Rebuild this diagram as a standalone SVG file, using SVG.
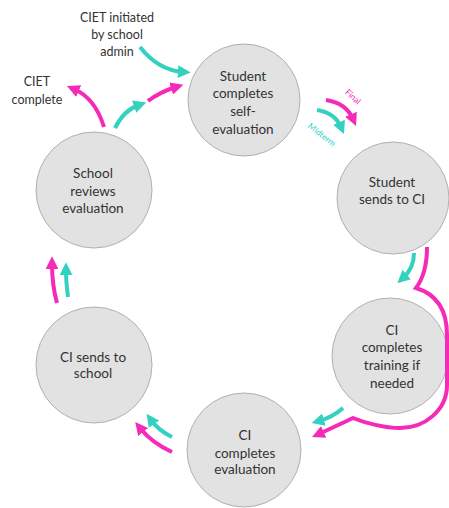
<svg xmlns="http://www.w3.org/2000/svg" width="449" height="508" viewBox="0 0 449 508">
<defs>
<marker id="ah-m" viewBox="0 0 10 10" refX="4" refY="5" markerWidth="3.2" markerHeight="3.2" orient="auto"><path d="M0,0 L10,5 L0,10 z" fill="#f52ab8"/></marker>
<marker id="ah-t" viewBox="0 0 10 10" refX="4" refY="5" markerWidth="3.2" markerHeight="3.2" orient="auto"><path d="M0,0 L10,5 L0,10 z" fill="#33d1c0"/></marker>
<style>
.node circle{fill:#e2e2e2;stroke:#b0b0b0;stroke-width:1}
.node text,.lbl{font-family:Lato,"Liberation Sans",sans-serif;font-size:13.5px;fill:#333;text-anchor:middle}
.lbl{font-size:12.5px}
.m{fill:none;stroke:#f52ab8;stroke-width:4;marker-end:url(#ah-m)}
.t{fill:none;stroke:#33d1c0;stroke-width:4;marker-end:url(#ah-t)}
.small{font-family:Lato,"Liberation Sans",sans-serif;font-size:8.5px;text-anchor:middle}
</style>
</defs>
<rect width="449" height="508" fill="#ffffff"/>
<g id="n1" class="node"><circle cx="244" cy="100" r="56"/><text x="243" y="81">Student</text><text x="243" y="98">completes</text><text x="243" y="116">self-</text><text x="243" y="134">evaluation</text></g>
<g id="n2" class="node"><circle cx="393" cy="198" r="56"/><text x="392" y="187">Student</text><text x="392" y="204">sends to CI</text></g>
<g id="n3" class="node"><circle cx="390" cy="356" r="58"/><text x="392" y="335">CI</text><text x="392" y="352">completes</text><text x="392" y="370">training if</text><text x="392" y="388">needed</text></g>
<g id="n4" class="node"><circle cx="244" cy="450" r="57"/><text x="245" y="440">CI</text><text x="245" y="458">completes</text><text x="245" y="474">evaluation</text></g>
<g id="n5" class="node"><circle cx="94" cy="365" r="58"/><text x="93" y="362">CI sends to</text><text x="93" y="378">school</text></g>
<g id="n6" class="node"><circle cx="94" cy="190" r="58"/><text x="93" y="178">School</text><text x="93" y="196">reviews</text><text x="93" y="213">evaluation</text></g>
<g id="labels">
<text class="lbl" x="117" y="22">CIET initiated</text><text class="lbl" x="117" y="39">by school</text><text class="lbl" x="117" y="56">admin</text>
<text class="lbl" x="37" y="86">CIET</text><text class="lbl" x="37" y="104">complete</text>
<text class="small" fill="#f52ab8" transform="translate(351,99) rotate(42)">Final</text>
<text class="small" fill="#33d1c0" transform="translate(320,137) rotate(38)">Midterm</text>
</g>
<g id="connectors">
<path class="t" d="M140,47 Q158,70 183,72"/>
<path class="m" d="M104,127 Q95,98 74,89"/>
<path class="t" d="M115,128 Q124,110 139,105"/>
<path class="m" d="M148,101 Q160,92 176,87"/>
<path class="m" d="M326,100 Q346,103 353,119"/>
<path class="t" d="M317,110 Q335,113 341,127"/>
<path class="t" d="M414,253 Q414,268 403,278"/>
<path class="m" d="M427,247 C427,262 425,276 416,288 C436,294 447,310 447,335 L447,385 C447,410 425,428 400,428 C385,428 365,423 353,418 C340,424 328,430 319,434"/>
<path class="t" d="M343,408 Q333,417 319,421"/>
<path class="t" d="M172,437 Q158,430 151,420"/>
<path class="m" d="M172,452 Q152,443 140,428"/>
<path class="m" d="M57,303 Q52,285 52,264"/>
<path class="t" d="M68,297 Q66,282 66,270"/>
</g>
</svg>
